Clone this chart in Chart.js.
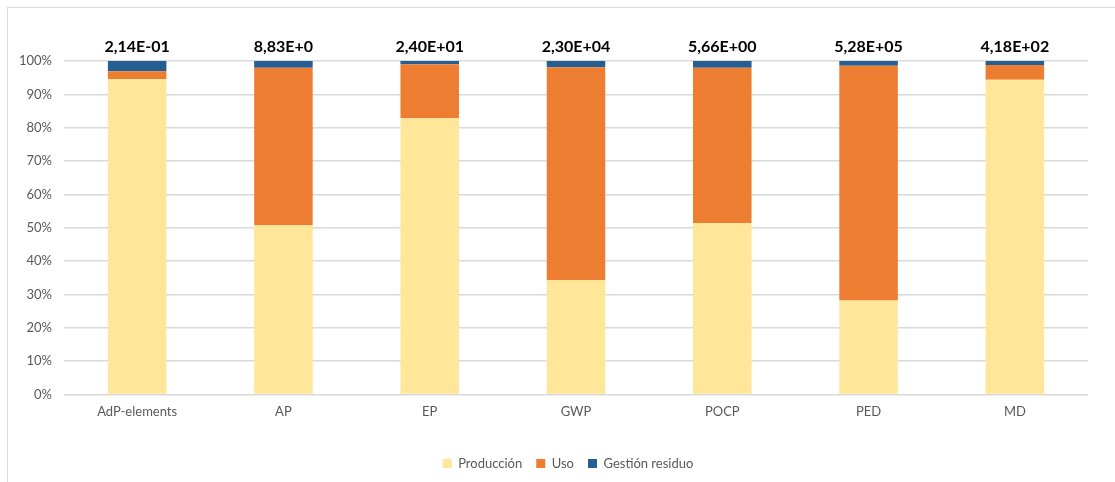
<!DOCTYPE html>
<html>
<head>
<meta charset="utf-8">
<script src="https://cdn.jsdelivr.net/npm/chart.js@4/dist/chart.umd.min.js"></script>
<style>
  html, body { margin: 0; padding: 0; background: #fff; }
  #frame { position: absolute; left: 7px; top: 7px; width: 1130px; height: 490px; border: 1px solid #d9d9d9; }
  #wrap { position: absolute; left: 0; top: 0; width: 1115px; height: 482px; }
</style>
</head>
<body>
<div id="frame"></div>
<div id="wrap"><canvas id="c" width="1115" height="482"></canvas></div>
<script>
// Impact categories
const categories = ['AdP-elements', 'AP', 'EP', 'GWP', 'POCP', 'PED', 'MD'];

// Share of each life-cycle stage, in percent of the category total
const produccion = [94.6, 50.7, 82.8, 34.3, 51.4, 28.2, 94.4];
const uso        = [2.3, 47.3, 16.2, 63.8, 46.6, 70.4, 4.4];
const gestion    = [3.1, 2.0, 1.0, 1.9, 2.0, 1.4, 1.2];

// Absolute totals written above each bar
const totals = ['2,14E-01', '8,83E+0', '2,40E+01', '2,30E+04', '5,66E+00', '5,28E+05', '4,18E+02'];

const FONT = 'Lato, "Open Sans", sans-serif';
const GREY = '#595959';

const totalsPlugin = {
  id: 'totals',
  afterDatasetsDraw(chart) {
    const ctx = chart.ctx;
    const x = chart.scales.x;
    ctx.save();
    ctx.font = 'bold 16px ' + FONT;
    ctx.fillStyle = '#000';
    ctx.textAlign = 'center';
    ctx.textBaseline = 'middle';
    totals.forEach((t, i) => {
      ctx.fillText(t, x.getPixelForValue(i), chart.chartArea.top - 14);
    });
    ctx.restore();
  }
};

// Centre the legend under the whole frame rather than the plot
const legendShift = {
  id: 'legendShift',
  afterLayout(chart) {
    const d = 24;
    chart.legend.left += d;
    chart.legend.right += d;
  }
};

new Chart(document.getElementById('c'), {
  type: 'bar',
  data: {
    labels: categories,
    datasets: [
      { label: 'Producción', data: produccion, backgroundColor: '#FFE699' },
      { label: 'Uso', data: uso, backgroundColor: '#ED7D31' },
      { label: 'Gestión residuo', data: gestion, backgroundColor: '#255E91' }
    ]
  },
  options: {
    responsive: false,
    animation: false,
    events: [],
    layout: { padding: { top: 61, right: 27, bottom: 2, left: 0 } },
    datasets: { bar: { categoryPercentage: 1, barPercentage: 0.4 } },
    scales: {
      x: {
        stacked: true,
        afterFit(scale) { scale.height += 13; },
        grid: { display: false, drawTicks: false },
        border: { display: false },
        ticks: { color: GREY, font: { family: FONT, size: 13 }, padding: 10 }
      },
      y: {
        stacked: true,
        min: 0, max: 100,
        afterFit(scale) { scale.width = 64; },
        grid: { color: '#d9d9d9', lineWidth: 1.5, drawTicks: false },
        border: { display: false },
        ticks: {
          stepSize: 10,
          color: GREY,
          padding: 12,
          font: { family: FONT, size: 13 },
          callback: v => v + '%'
        }
      }
    },
    plugins: {
      legend: {
        position: 'bottom',
        labels: {
          color: GREY,
          font: { family: FONT, size: 13 },
          boxWidth: 9, boxHeight: 9,
          padding: 14
        }
      },
      tooltip: { enabled: false }
    }
  },
  plugins: [totalsPlugin, legendShift]
});
</script>
</body>
</html>
